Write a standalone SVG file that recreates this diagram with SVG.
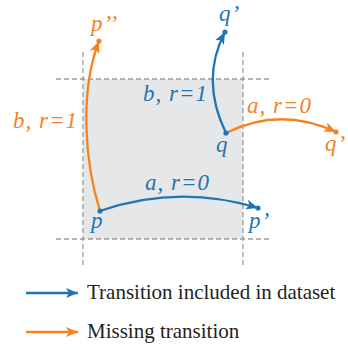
<svg xmlns="http://www.w3.org/2000/svg" width="348" height="350" viewBox="0 0 348 350">
<style>
.lbl{font-family:"Liberation Serif","Times New Roman",serif;font-style:italic;font-size:23px;letter-spacing:1px}
.b{fill:#1f74b4}
.o{fill:#f5821f}
.eb{fill:none;stroke:#1f74b4;stroke-width:2.3}
.eo{fill:none;stroke:#f5821f;stroke-width:2.3}
.dash{stroke:#9a9a9a;stroke-width:1.3;stroke-dasharray:5,3;fill:none}
.leg{font-family:"Liberation Serif","Times New Roman",serif;font-size:21px;fill:#231f20}
</style>
<defs>
<marker id="ab" viewBox="0 0 12 10" refX="12" refY="5" markerWidth="12" markerHeight="10" markerUnits="userSpaceOnUse" orient="auto">
<path d="M0,0 L12,5 L0,10 L3,5 z" fill="#1f74b4"/>
</marker>
<marker id="ao" viewBox="0 0 12 10" refX="12" refY="5" markerWidth="12" markerHeight="10" markerUnits="userSpaceOnUse" orient="auto">
<path d="M0,0 L12,5 L0,10 L3,5 z" fill="#f5821f"/>
</marker>
</defs>
<g id="region">
<rect x="83" y="79" width="160" height="160" fill="#e6e7e8"/>
<line class="dash" x1="56" y1="79" x2="270" y2="79"/>
<line class="dash" x1="56" y1="239" x2="270" y2="239"/>
<line class="dash" x1="83" y1="52" x2="83" y2="268"/>
<line class="dash" x1="243" y1="52" x2="243" y2="268"/>
</g>
<g id="connectors">
<path class="eb" d="M100,211 Q178,184 258,208" marker-end="url(#ab)"/>
<path class="eb" d="M226,133 Q200,80 225,32" marker-end="url(#ab)"/>
<path class="eo" d="M226,133 Q280,106 336,132" marker-end="url(#ao)"/>
<path class="eo" d="M100,211 C84,160 80,90 99,41" marker-end="url(#ao)"/>
<text class="lbl b" x="145" y="190" font-family="Liberation Serif">a, r=0</text>
<text class="lbl b" x="143" y="101" font-family="Liberation Serif">b, r=1</text>
<text class="lbl o" x="247" y="113" font-family="Liberation Serif">a, r=0</text>
<text class="lbl o" x="13" y="128" font-family="Liberation Serif">b, r=1</text>
</g>
<g id="node-p">
<circle cx="100" cy="211" r="2.6" class="b"/>
<text class="lbl b" x="91" y="228" font-family="Liberation Serif">p</text>
</g>
<g id="node-p1">
<circle cx="258" cy="208" r="2.6" class="b"/>
<text class="lbl b" x="249" y="228" font-family="Liberation Serif">p’</text>
</g>
<g id="node-q">
<circle cx="226" cy="133" r="2.6" class="b"/>
<text class="lbl b" x="216" y="152" font-family="Liberation Serif">q</text>
</g>
<g id="node-q1-blue">
<circle cx="225" cy="32" r="2.6" class="b"/>
<text class="lbl b" x="219" y="21" font-family="Liberation Serif">q’</text>
</g>
<g id="node-q1-orange">
<circle cx="336" cy="132" r="2.6" class="o"/>
<text class="lbl o" x="325" y="151" font-family="Liberation Serif">q’</text>
</g>
<g id="node-p2">
<circle cx="99" cy="41" r="2.6" class="o"/>
<text class="lbl o" x="91" y="31" font-family="Liberation Serif">p’’</text>
</g>
<g id="legend">
<line x1="26" y1="293" x2="78" y2="293" class="eb" marker-end="url(#ab)"/>
<text class="leg" x="87" y="299" font-family="Liberation Serif">Transition included in dataset</text>
<line x1="26" y1="332" x2="78" y2="332" class="eo" marker-end="url(#ao)"/>
<text class="leg" x="87" y="338" font-family="Liberation Serif">Missing transition</text>
</g>
</svg>
